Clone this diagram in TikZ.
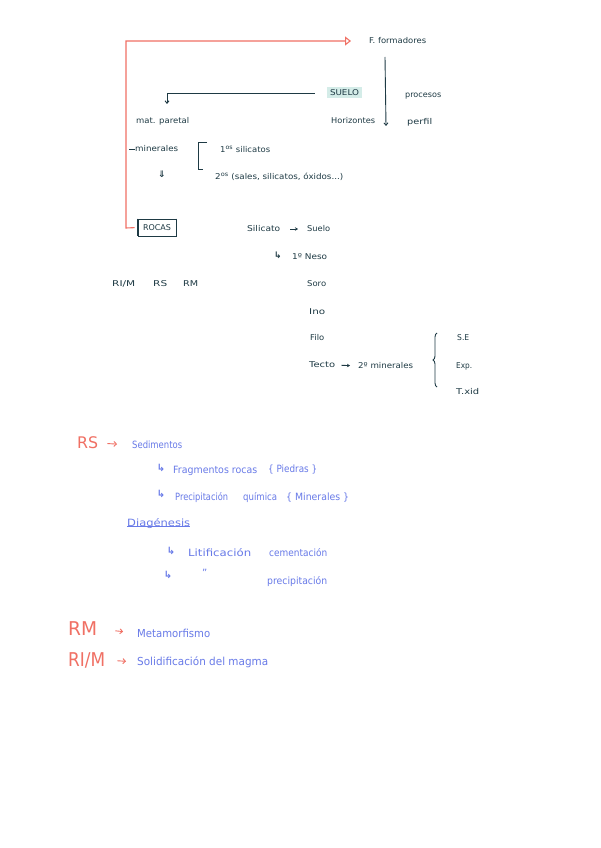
\documentclass[tikz,border=0pt]{standalone}
\usepackage{fontspec}
\setmainfont{DejaVu Sans}
\usepackage{graphicx}
\usetikzlibrary{arrows.meta,decorations.pathreplacing}
\definecolor{ink}{RGB}{30,58,68}
\definecolor{redink}{RGB}{240,112,100}
\definecolor{blueink}{RGB}{104,122,232}
\definecolor{hl}{RGB}{212,236,232}
\newcommand\fw[2]{\resizebox{#1pt}{\height}{#2}}
\tikzset{
  dk/.style={text=ink,inner sep=0pt,anchor=west,font=\fontsize{8}{9}\selectfont},
  bl/.style={text=blueink,inner sep=0pt,anchor=west,font=\fontsize{10}{12}\selectfont},
  rd/.style={text=redink,inner sep=0pt,anchor=west},
  dkline/.style={draw=ink,line width=0.9pt},
  dkarrow/.style={draw=ink,line width=0.9pt,-{Straight Barb[length=2.5pt,width=4pt]}},
  redarrow/.style={draw=redink,line width=0.9pt,-{Straight Barb[length=2.5pt,width=5pt]}},
  blhook/.style={text=blueink,inner sep=0pt,font=\bfseries\fontsize{10}{11}\selectfont},
  dkhook/.style={text=ink,inner sep=0pt,font=\bfseries\fontsize{9}{11}\selectfont}
}
\begin{document}
\begin{tikzpicture}[x=1pt,y=-1pt]
\useasboundingbox (0,0) rectangle (600,848);
\fill[white] (0,0) rectangle (600,848);

% ---- top section (dark ink) ----
\node[dk] (ff) at (369,41) {\fw{57}{F. formadores}};
\node[fill=hl,text=ink,inner sep=0pt,minimum width=35pt,minimum height=11pt,font=\fontsize{8}{9}\selectfont] (suelo) at (344.5,93) {\fw{29}{SUELO}};
\node[dk] (proc) at (405,96) {\fw{36}{procesos}};
\node[dk] (perf) at (407,122) {\fw{25}{perfil}};
\node[dk] (hor) at (331,121) {\fw{44}{Horizontes}};
\node[dk] (mp) at (136,121) {\fw{53}{mat. paretal}};
\node[dk] (min) at (135,149) {\fw{43}{minerales}};
\node[dk] (s1) at (220,149) {\fw{50}{1\textsuperscript{os} silicatos}};
\node[dk] (s2) at (215,177) {\fw{128}{2\textsuperscript{os} (sales, silicatos, óxidos...)}};
\node[dkhook,anchor=center] (dar) at (162,174) {⇓};
\node[draw=ink,line width=0.6pt,text=ink,inner sep=0pt,minimum width=38pt,minimum height=17pt,font=\fontsize{8}{9}\selectfont] (rocas) at (157,227.5) {\fw{28}{ROCAS}};
\draw[ink,line width=1.3pt] (rocas.north west) -- (rocas.south west);
\draw[ink,line width=1.3pt] (rocas.north east) -- (rocas.south east);

\node[dk] (sil) at (247,229) {\fw{33}{Silicato}};
\node[dk] (suelo2) at (307,229) {\fw{23}{Suelo}};
\node[dkhook,anchor=center] (hook) at (278,255) {↳};
\node[dk] (neso) at (292,257) {\fw{35}{1º Neso}};
\node[dk] (rim) at (112,284) {\fw{23}{RI/M}};
\node[dk] (rs0) at (153,284) {\fw{14}{RS}};
\node[dk] (rm0) at (183,284) {\fw{15}{RM}};
\node[dk] (soro) at (307,284) {\fw{19}{Soro}};
\node[dk] (ino) at (309,312) {\fw{16}{Ino}};
\node[dk] (filo) at (310,338) {\fw{14}{Filo}};
\node[dk] (tecto) at (309,365) {\fw{26}{Tecto}};
\node[dk] (sec) at (358,366) {\fw{55}{2º minerales}};
\node[dk] (se) at (457,338) {\fw{12}{S.E}};
\node[dk] (exp) at (456,366) {\fw{16}{Exp.}};
\node[dk] (txid) at (456,392) {\fw{23}{T.xid}};

% connectors top
\coordinate (dA) at (385,57);
\coordinate (dB) at (386,126);
\draw[dkarrow] (dA) -- (dB);
\coordinate (mpA) at (167,104);
\draw[dkarrow,shorten <=12pt] (suelo.west) -| (mpA);
\draw[dkarrow,shorten <=10pt,shorten >=9pt,-{Stealth[length=3pt,width=3.5pt]}] (sil.east) -- (suelo2.west);
\draw[dkarrow,shorten <=6pt,shorten >=8pt,-{Stealth[length=3pt,width=3.5pt]}] (tecto.east) -- (sec.west);
\draw[dkline,line width=0.6pt] (min.west) -- ++(-6,0);
% bracket
\draw[dkline] (207,142) -- (198,142) -- (198,169) -- (203,169);
% brace
\draw[dkline,decorate,decoration={brace,amplitude=4pt}] (437,387) -- (437,333);

% red frame line
\coordinate (rc) at (126,228);
\draw[draw=redink,line width=1.1pt,shorten <=3pt,shorten >=18pt,-{Triangle[open,length=6pt,width=9pt]}] (rocas.west) -- (rc) |- (ff.west);

% ---- lower section (red/blue) ----
\node[rd,font=\fontsize{16}{18}\selectfont] (rs) at (77,443) {\fw{21}{RS}};
\node[bl] (sed) at (132,445) {\fw{50}{Sedimentos}};
\draw[redarrow,shorten <=9pt,shorten >=15pt] (rs.east) -- (sed.west);
\node[blhook] (h1) at (161,468) {↳};
\node[bl] (frag) at (173,471) {\fw{84}{Fragmentos rocas}};
\node[bl] (pied) at (268,470) {\fw{49}{\{ Piedras \}}};
\node[blhook] (h2) at (161,494) {↳};
\node[bl] (prec) at (175,498) {\fw{53}{Precipitación}};
\node[bl] (quim) at (243,498) {\fw{34}{química}};
\node[bl] (mine) at (286,498) {\fw{63}{\{ Minerales \}}};
\node[bl] (diag) at (127,524) {\fw{63}{Diagénesis}};
\draw[blueink,line width=0.8pt] ([yshift=3pt]diag.south west) -- ([yshift=3pt]diag.south east);
\node[blhook] (h3) at (171,551) {↳};
\node[bl] (liti) at (188,553) {\fw{63}{Litificación}};
\node[bl] (ceme) at (269,553) {\fw{58}{cementación}};
\node[blhook] (h4) at (168,575) {↳};
\node[bl] (ditto) at (202,573) {''};
\node[bl] (prec2) at (267,582) {\fw{60}{precipitación}};

\node[rd,font=\fontsize{19}{21}\selectfont] (rm) at (68,629) {\fw{29}{RM}};
\node[bl,font=\fontsize{11}{13}\selectfont] (meta) at (137,633) {\fw{73}{Metamorfismo}};
\draw[redarrow,shorten <=18pt,shorten >=14pt] (rm.east) -- (meta.west);
\node[rd,font=\fontsize{19}{21}\selectfont] (rim2) at (68,660) {\fw{37}{RI/M}};
\node[bl,font=\fontsize{11}{13}\selectfont] (soli) at (137,662) {\fw{131}{Solidificación del magma}};
\draw[redarrow,shorten <=12pt,shorten >=11pt] (rim2.east) -- (soli.west);
\end{tikzpicture}
\end{document}
